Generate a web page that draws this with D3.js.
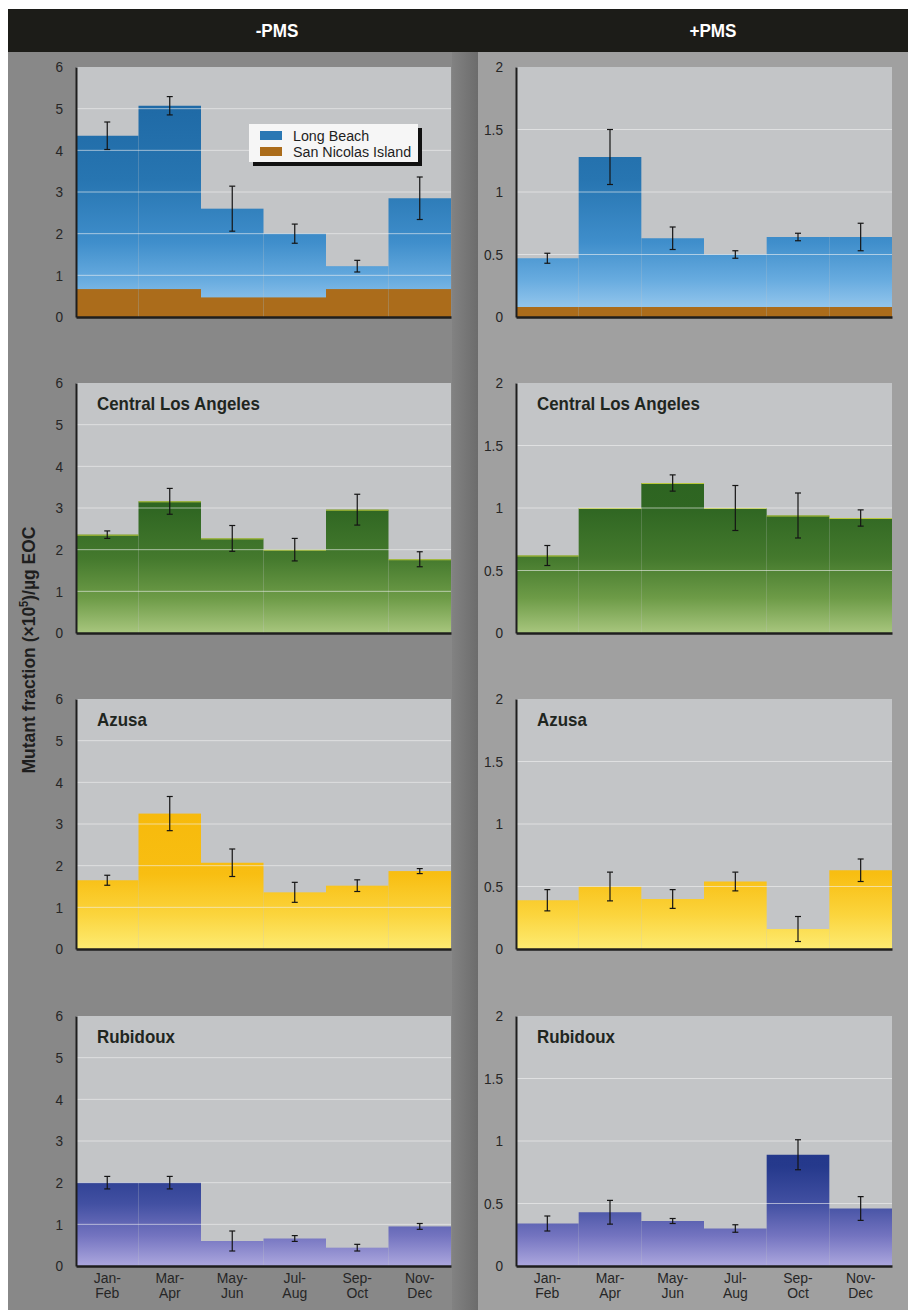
<!DOCTYPE html>
<html>
<head>
<meta charset="utf-8">
<script src="https://cdn.jsdelivr.net/npm/d3@7"></script>
<style>
  html, body { margin: 0; padding: 0; background: #fff; }
  svg { display: block; }
</style>
</head>
<body>
<svg id="chart" width="908" height="1310"></svg>
<script>
// Two-month sampling periods
const categories = ["Jan-Feb", "Mar-Apr", "May-Jun", "Jul-Aug", "Sep-Oct", "Nov-Dec"];

// Mutant fraction (x10^5)/µg EOC, without metabolic activation (-PMS)
const longBeachMinus      = [4.35, 5.07, 2.60, 2.00, 1.22, 2.85];
const longBeachMinusErr   = [0.33, 0.22, 0.54, 0.23, 0.14, 0.51];
const sanNicolasMinus     = [0.67, 0.67, 0.47, 0.47, 0.67, 0.67];
const centralMinus        = [2.36, 3.16, 2.27, 2.00, 2.96, 1.77];
const centralMinusErr     = [0.09, 0.31, 0.31, 0.27, 0.37, 0.18];
const azusaMinus          = [1.65, 3.25, 2.07, 1.36, 1.52, 1.87];
const azusaMinusErr       = [0.12, 0.41, 0.33, 0.24, 0.14, 0.06];
const rubidouxMinus       = [2.00, 2.00, 0.60, 0.66, 0.44, 0.95];
const rubidouxMinusErr    = [0.15, 0.15, 0.24, 0.07, 0.08, 0.07];

// With metabolic activation (+PMS)
const longBeachPlus       = [0.47, 1.28, 0.63, 0.50, 0.64, 0.64];
const longBeachPlusErr    = [0.04, 0.22, 0.09, 0.03, 0.03, 0.11];
const sanNicolasPlus      = [0.08, 0.08, 0.08, 0.08, 0.08, 0.08];
const centralPlus         = [0.62, 1.00, 1.20, 1.00, 0.94, 0.92];
const centralPlusErr      = [0.08, null, 0.065, 0.18, 0.18, 0.065];
const azusaPlus           = [0.39, 0.50, 0.40, 0.54, 0.16, 0.63];
const azusaPlusErr        = [0.085, 0.115, 0.075, 0.075, 0.10, 0.09];
const rubidouxPlus        = [0.34, 0.43, 0.36, 0.30, 0.89, 0.46];
const rubidouxPlusErr     = [0.06, 0.095, 0.02, 0.03, 0.12, 0.095];

// Axis ticks
const ticksMinus = [0, 1, 2, 3, 4, 5, 6];
const ticksPlus  = [0, 0.5, 1, 1.5, 2];

const columnTitles = ["-PMS", "+PMS"];
const legendLabels = ["Long Beach", "San Nicolas Island"];

// ---- layout ----
const svg = d3.select("#chart");
const defs = svg.append("defs");
const FONT = "'Liberation Sans', Arial, Helvetica, sans-serif";

// squeeze a text horizontally so it reads as a condensed face
function condense(sel, f) {
  sel.each(function () {
    const w = this.getComputedTextLength();
    d3.select(this).attr("textLength", w * f).attr("lengthAdjust", "spacingAndGlyphs");
  });
}

const colX = [[76, 451], [516, 892]];
const rowBottom = [317, 633, 949, 1266];
const plotH = 250;

// fill ramps (offset measured from plot bottom upward)
const ramps = {
  blue:   [[0, "#a2cff1"], [0.15, "#67abdf"], [0.3, "#3f8ecb"], [0.55, "#2775b1"], [1, "#1b64a0"]],
  green:  [[0, "#a8c67e"], [0.14, "#6d9b47"], [0.3, "#44792d"], [0.5, "#2f6622"], [1, "#285d1d"]],
  yellow: [[0, "#fdeb72"], [0.14, "#fbd43c"], [0.3, "#f8be12"], [1, "#f4b200"]],
  navy:   [[0, "#aca7de"], [0.12, "#7474c0"], [0.25, "#4250a2"], [0.4, "#25398c"], [1, "#1f3283"]]
};

// page background
svg.append("rect").attr("x", 0).attr("y", 0).attr("width", 908).attr("height", 1310).attr("fill", "#ffffff");
svg.append("rect").attr("x", 8).attr("y", 52).attr("width", 470).attr("height", 1258).attr("fill", "#888888");
const shade = defs.append("linearGradient").attr("id", "colShade").attr("x1", 0).attr("x2", 1).attr("y1", 0).attr("y2", 0);
shade.append("stop").attr("offset", 0).attr("stop-color", "#828282");
shade.append("stop").attr("offset", 1).attr("stop-color", "#6c6c6c");
svg.append("rect").attr("x", 452).attr("y", 52).attr("width", 26).attr("height", 1258).attr("fill", "url(#colShade)");
svg.append("rect").attr("x", 478).attr("y", 52).attr("width", 430).attr("height", 1258).attr("fill", "#a0a0a0");

// header band
svg.append("rect").attr("x", 8).attr("y", 9).attr("width", 900).attr("height", 43).attr("fill", "#1c1c18");
svg.selectAll("text.coltitle").data(columnTitles).join("text")
  .attr("class", "coltitle")
  .attr("x", (d, i) => i === 0 ? 277 : 713)
  .attr("y", 37)
  .attr("text-anchor", "middle")
  .attr("font-family", FONT).attr("font-weight", "bold").attr("font-size", 19)
  .attr("fill", "#ffffff")
  .text(d => d)
  .call(condense, 0.9);

// y axis title
svg.append("text")
  .attr("transform", "translate(35,650) rotate(-90)")
  .attr("text-anchor", "middle")
  .attr("font-family", FONT).attr("font-weight", "bold").attr("font-size", 19)
  .attr("fill", "#1e1e1e")
  .call(t => {
    t.append("tspan").text("Mutant fraction (\u00d710");
    t.append("tspan").attr("baseline-shift", "super").attr("font-size", 12).text("5");
    t.append("tspan").attr("baseline-shift", "0").text(")/\u00b5g EOC");
  })
  .call(condense, 0.92);

const panels = [
  { row: 0, col: 0, ticks: ticksMinus, max: 6, color: "blue",   vals: longBeachMinus, err: longBeachMinusErr, base: sanNicolasMinus, title: null },
  { row: 0, col: 1, ticks: ticksPlus,  max: 2, color: "blue",   vals: longBeachPlus,  err: longBeachPlusErr,  base: sanNicolasPlus,  title: null },
  { row: 1, col: 0, ticks: ticksMinus, max: 6, color: "green",  vals: centralMinus,   err: centralMinusErr,   title: "Central Los Angeles" },
  { row: 1, col: 1, ticks: ticksPlus,  max: 2, color: "green",  vals: centralPlus,    err: centralPlusErr,    title: "Central Los Angeles" },
  { row: 2, col: 0, ticks: ticksMinus, max: 6, color: "yellow", vals: azusaMinus,     err: azusaMinusErr,     title: "Azusa" },
  { row: 2, col: 1, ticks: ticksPlus,  max: 2, color: "yellow", vals: azusaPlus,      err: azusaPlusErr,      title: "Azusa" },
  { row: 3, col: 0, ticks: ticksMinus, max: 6, color: "navy",   vals: rubidouxMinus,  err: rubidouxMinusErr,  title: "Rubidoux" },
  { row: 3, col: 1, ticks: ticksPlus,  max: 2, color: "navy",   vals: rubidouxPlus,   err: rubidouxPlusErr,   title: "Rubidoux" }
];

panels.forEach((p, idx) => {
  const [x0, x1] = colX[p.col];
  const yb = rowBottom[p.row];
  const yt = yb - plotH;

  const x = d3.scaleBand().domain(categories).range([x0, x1]).padding(0);
  const y = d3.scaleLinear().domain([0, p.max]).range([yb, yt]);

  const g = svg.append("g");

  // plot background
  g.append("rect").attr("x", x0).attr("y", yt).attr("width", x1 - x0).attr("height", plotH).attr("fill", "#c3c5c7");

  // gradient anchored to the plot's own height
  const gid = "fill" + idx;
  const lg = defs.append("linearGradient").attr("id", gid)
    .attr("gradientUnits", "userSpaceOnUse")
    .attr("x1", 0).attr("x2", 0).attr("y1", yb).attr("y2", yt);
  ramps[p.color].forEach(([o, c]) => lg.append("stop").attr("offset", o).attr("stop-color", c));

  // bars
  g.selectAll("rect.bar").data(p.vals).join("rect")
    .attr("class", "bar")
    .attr("x", (d, i) => x(categories[i]))
    .attr("width", x.bandwidth())
    .attr("y", d => y(d))
    .attr("height", d => y(0) - y(d))
    .attr("fill", `url(#${gid})`);

  if (p.color === "green") {
    g.selectAll("line.edge").data(p.vals).join("line")
      .attr("class", "edge")
      .attr("x1", (d, i) => x(categories[i])).attr("x2", (d, i) => x(categories[i]) + x.bandwidth())
      .attr("y1", d => y(d) + 0.5).attr("y2", d => y(d) + 0.5)
      .attr("stroke", "#b9c83a").attr("stroke-width", 1);
  }

  // reference site along the floor of the top row
  if (p.base) {
    g.selectAll("rect.base").data(p.base).join("rect")
      .attr("class", "base")
      .attr("x", (d, i) => x(categories[i]))
      .attr("width", x.bandwidth())
      .attr("y", d => y(d))
      .attr("height", d => y(0) - y(d))
      .attr("fill", "#ab6c1b");
  }

  // gridlines, drawn over the bars
  g.selectAll("line.grid").data(p.ticks.filter(t => t > 0 && t < p.max)).join("line")
    .attr("class", "grid")
    .attr("x1", x0).attr("x2", x1)
    .attr("y1", d => y(d)).attr("y2", d => y(d))
    .attr("stroke", "#f2f2f2").attr("stroke-opacity", 0.6).attr("stroke-width", 1);

  // error bars
  const eb = g.selectAll("g.err").data(p.vals.map((v, i) => ({ v, e: p.err[i], c: categories[i] })).filter(d => d.e != null))
    .join("g").attr("class", "err")
    .attr("stroke", "#151515").attr("stroke-width", 1.2);
  eb.append("line")
    .attr("x1", d => x(d.c) + x.bandwidth() / 2).attr("x2", d => x(d.c) + x.bandwidth() / 2)
    .attr("y1", d => y(d.v + d.e)).attr("y2", d => y(d.v - d.e));
  eb.append("line")
    .attr("x1", d => x(d.c) + x.bandwidth() / 2 - 3).attr("x2", d => x(d.c) + x.bandwidth() / 2 + 3)
    .attr("y1", d => y(d.v + d.e)).attr("y2", d => y(d.v + d.e));
  eb.append("line")
    .attr("x1", d => x(d.c) + x.bandwidth() / 2 - 3).attr("x2", d => x(d.c) + x.bandwidth() / 2 + 3)
    .attr("y1", d => y(d.v - d.e)).attr("y2", d => y(d.v - d.e));

  // y axis
  const ya = g.append("g").attr("transform", `translate(${x0},0)`)
    .call(d3.axisLeft(y).tickValues(p.ticks).tickSize(0).tickSizeOuter(0).tickPadding(13).tickFormat(d3.format("~g")));
  ya.select(".domain").attr("stroke", "#1e1e1e").attr("stroke-width", 2);
  ya.selectAll("text").attr("font-family", FONT).attr("font-size", 15.5).attr("fill", "#262626")
    .call(condense, 0.88);

  // x axis
  const xa = g.append("g").attr("transform", `translate(0,${yb})`)
    .call(d3.axisBottom(x).tickSize(0).tickSizeOuter(0).tickPadding(0).tickFormat(""));
  xa.select(".domain").attr("stroke", "#1e1e1e").attr("stroke-width", 2.5);
  if (p.row === 3) {
    xa.selectAll(".tick text").remove();
    xa.selectAll(".tick").each(function (d) {
      const parts = d.split("-");
      const tk = d3.select(this);
      [parts[0] + "-", parts[1]].forEach((s, li) => {
        tk.append("text")
          .attr("x", 0).attr("y", 17 + li * 15)
          .attr("text-anchor", "middle")
          .attr("font-family", FONT).attr("font-size", 15.5).attr("fill", "#262626")
          .text(s)
          .call(condense, 0.9);
      });
    });
  }

  // site name
  if (p.title) {
    g.append("text")
      .attr("x", x0 + 21).attr("y", yt + 27)
      .attr("font-family", FONT).attr("font-weight", "bold").attr("font-size", 19)
      .attr("fill", "#1f261f")
      .text(p.title)
      .call(condense, 0.89);
  }

  // legend
  if (idx === 0) {
    const lx = 249, ly = 124, lw = 169, lh = 38;
    const lgG = g.append("g");
    lgG.append("rect").attr("x", lx + 4).attr("y", ly + 4).attr("width", lw).attr("height", lh).attr("fill", "#111");
    lgG.append("rect").attr("x", lx).attr("y", ly).attr("width", lw).attr("height", lh).attr("fill", "#f6f6f6");
    const sw = ["#2a78b4", "#ab6c1b"];
    legendLabels.forEach((name, i) => {
      lgG.append("rect").attr("x", lx + 11).attr("y", ly + 7 + i * 16).attr("width", 22).attr("height", 9).attr("fill", sw[i]);
      lgG.append("text").attr("x", lx + 44).attr("y", ly + 17 + i * 16)
        .attr("font-family", FONT).attr("font-size", 15.5).attr("fill", "#1e1e1e").text(name)
        .call(condense, 0.92);
    });
  }
});
</script>
</body>
</html>
